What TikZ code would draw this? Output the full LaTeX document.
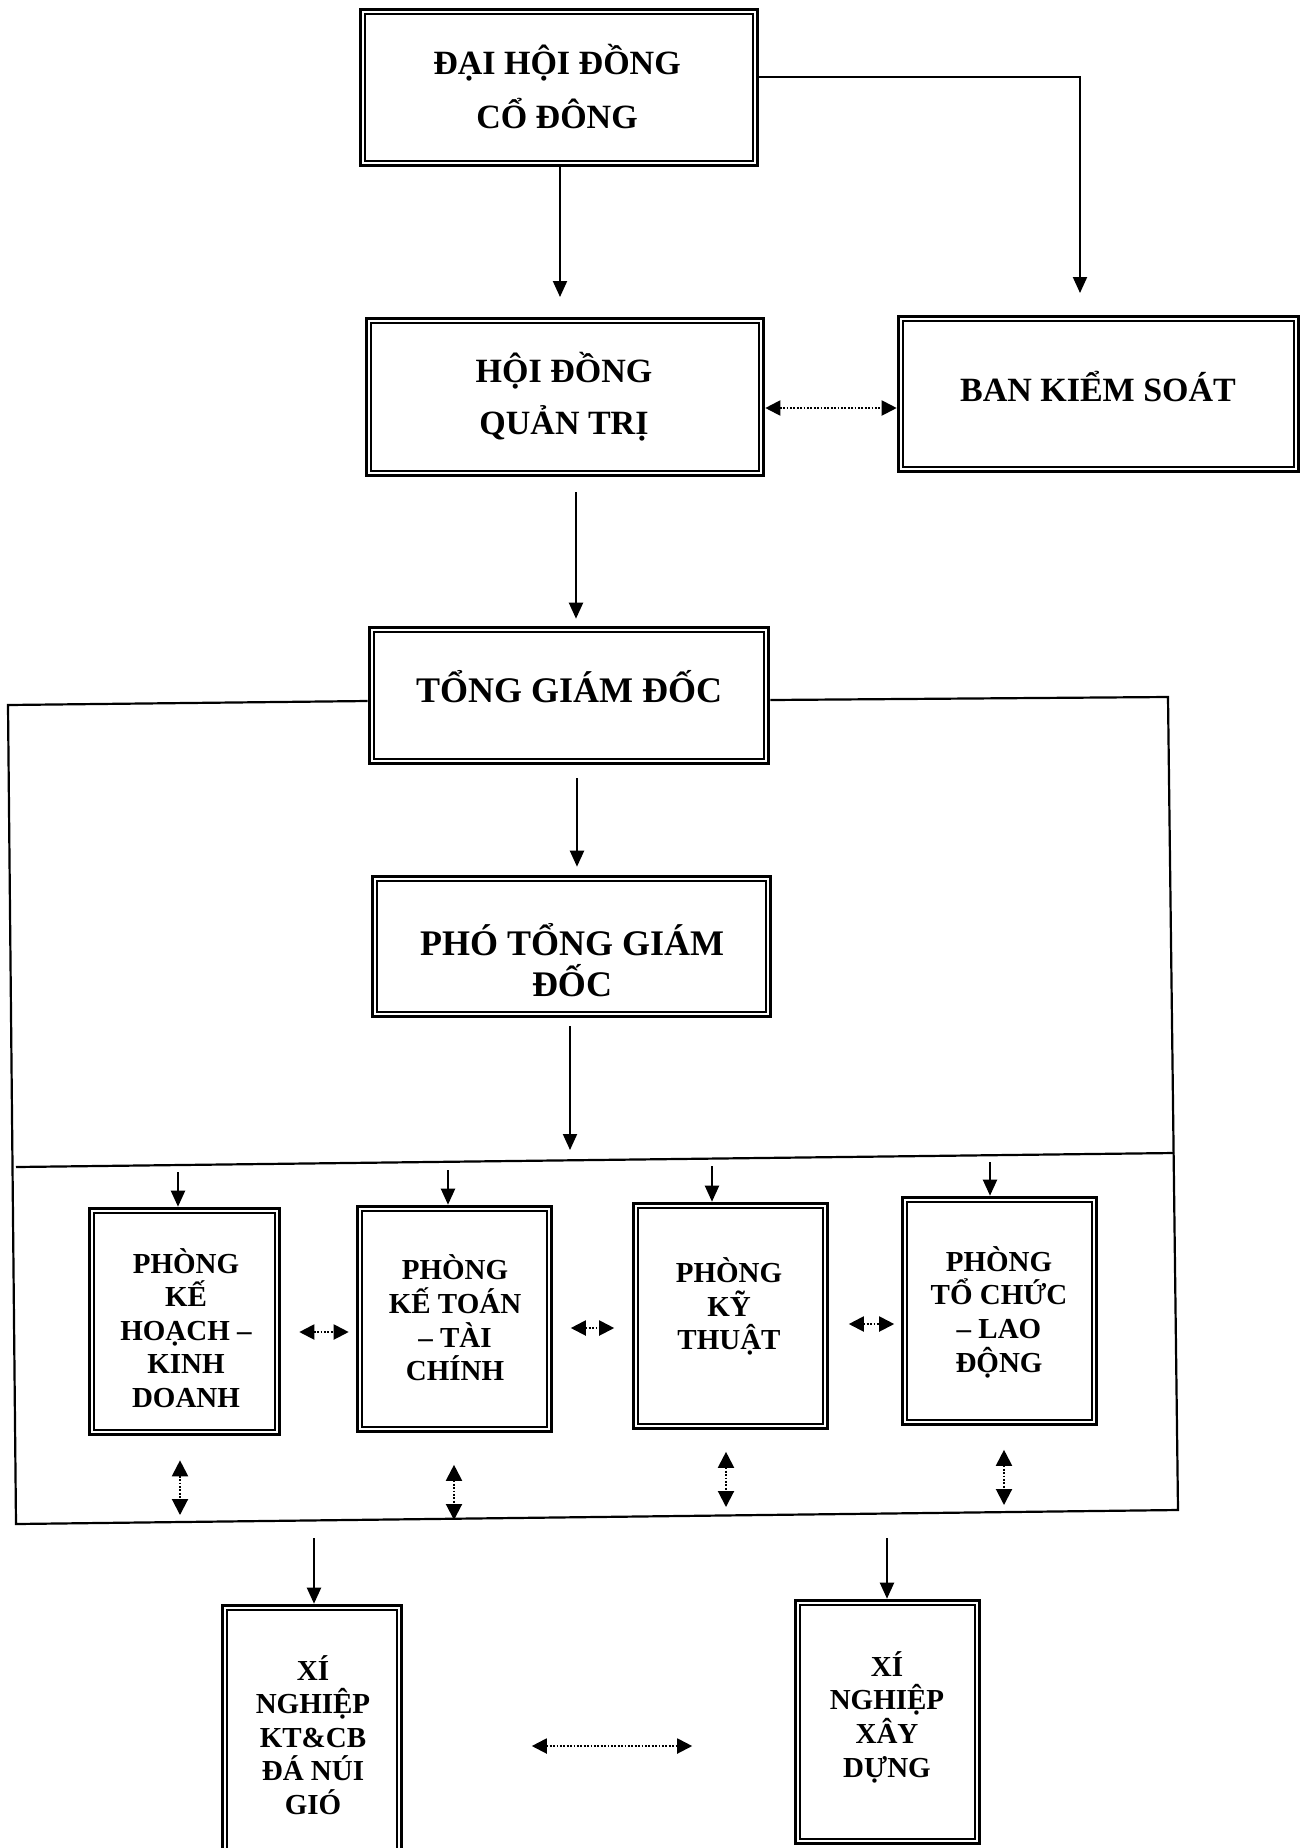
\documentclass[tikz,border=0pt]{standalone}
\usepackage{fontspec}
\setmainfont{Liberation Serif}
\usetikzlibrary{arrows.meta}
\begin{document}
\begin{tikzpicture}[x=1pt,y=-1pt,
  dbox/.style={draw, line width=3.6pt, inner sep=0pt},
  bigt/.style={font=\fontsize{34}{54}\selectfont\bfseries, align=center, inner sep=0pt},
  midt/.style={font=\fontsize{36}{41}\selectfont\bfseries, align=center, inner sep=0pt},
  smallt/.style={font=\fontsize{29}{33.6}\selectfont\bfseries, align=center, inner sep=0pt},
  arr/.style={line width=2pt, -{Triangle[length=16pt,width=14pt]}},
  darr/.style={line width=2pt, dash pattern=on 1.8pt off 1.6pt, {Triangle[length=15pt,width=15pt]}-{Triangle[length=15pt,width=15pt]}},
  vdarr/.style={line width=2pt, dash pattern=on 1.8pt off 1.6pt, {Triangle[length=16pt,width=16pt]}-{Triangle[length=16pt,width=16pt]}},
  frame/.style={line width=2.2pt}
]
\useasboundingbox (0,0) rectangle (1309,1848);
\clip (0,0) rectangle (1309,1848);

% boxes
\node[dbox, minimum width=397pt, minimum height=156pt] (dhd) at (559,87.5) {};
\node[dbox, minimum width=397pt, minimum height=157pt] (hdqt) at (565,397) {};
\node[dbox, minimum width=400pt, minimum height=155pt] (bks) at (1098.5,394) {};
\node[dbox, minimum width=399pt, minimum height=136pt] (tgd) at (569,695.5) {};
\node[dbox, minimum width=398pt, minimum height=140pt] (ptgd) at (571.5,946.5) {};
\node[dbox, minimum width=190pt, minimum height=226pt] (p1) at (184.5,1321.5) {};
\node[dbox, minimum width=194pt, minimum height=225pt] (p2) at (454.5,1319) {};
\node[dbox, minimum width=194pt, minimum height=225pt] (p3) at (730.5,1316) {};
\node[dbox, minimum width=194pt, minimum height=227pt] (p4) at (999.5,1311) {};
\node[dbox, minimum width=179pt, minimum height=268pt] (xn1) at (312,1739.5) {};
\node[dbox, minimum width=184pt, minimum height=243pt] (xn2) at (887.5,1722) {};

\foreach \n in {dhd,hdqt,bks,tgd,ptgd,p1,p2,p3,p4,xn1,xn2}
  \draw[line width=2pt] ([shift={(6,6)}]\n.north west) rectangle ([shift={(-6,-6)}]\n.south east);

% texts
\node[bigt] (dhdt) at (557,87) {ĐẠI HỘI ĐỒNG\\CỔ ĐÔNG};
\node[bigt, font=\fontsize{34}{52}\selectfont\bfseries] (hdqtt) at (564,397) {HỘI ĐỒNG\\QUẢN TRỊ};
\node[bigt] (bkst) at (1098,387) {BAN KIỂM SOÁT};
\node[midt] (tgdt) at (569,687) {TỔNG GIÁM ĐỐC};
\node[midt] (ptgdt) at (572,960) {PHÓ TỔNG GIÁM\\ĐỐC};
\node[smallt] (p1t) at (186,1328) {PHÒNG\\KẾ\\HOẠCH –\\KINH\\DOANH};
\node[smallt] (p2t) at (455,1318) {PHÒNG\\KẾ TOÁN\\– TÀI\\CHÍNH};
\node[smallt] (p3t) at (729,1306.5) {PHÒNG\\KỸ\\THUẬT};
\node[smallt] (p4t) at (999,1312) {PHÒNG\\TỔ CHỨC\\– LAO\\ĐỘNG};
\node[smallt] (xn1t) at (313,1735) {XÍ\\NGHIỆP\\KT\&CB\\ĐÁ NÚI\\GIÓ};
\node[smallt] (xn2t) at (887,1717) {XÍ\\NGHIỆP\\XÂY\\DỰNG};

% frame
\draw[frame] ([yshift=-5.5pt]tgd.west) -- (8,705) -- (16,1524) -- (1178,1510) -- (1168,697) -- ([yshift=-4.5pt]tgd.east);
\draw[frame] (16,1167) -- (1174,1153);

% connectors top
\coordinate (a1) at (560,297);
\draw[arr] (dhd.south -| a1) -- (a1);
\coordinate (a2) at (1080,293);
\draw[arr] ([yshift=10.5pt]dhd.east) -| (a2);
\draw[darr] ([yshift=-11pt]hdqt.east) -- ([yshift=-11pt]hdqt.east -| bks.west);
\draw[arr] ([xshift=11pt,yshift=-15pt]hdqt.south) -- ([xshift=7pt,yshift=7pt]tgd.north);
\draw[arr] ([xshift=8pt,yshift=-13pt]tgd.south) -- ([xshift=5.5pt,yshift=8pt]ptgd.north);
\coordinate (a3) at (570,1150);
\draw[arr] ([yshift=-8pt]ptgd.south -| a3) -- (a3);

% down arrows to departments
\coordinate (m1) at (178,1172);
\coordinate (m2) at (448,1170);
\coordinate (m3) at (712,1166);
\coordinate (m4) at (990,1162);
\draw[arr] (m1) -- (m1 |- p1.north);
\draw[arr] (m2) -- (m2 |- p2.north);
\draw[arr] (m3) -- (m3 |- p3.north);
\draw[arr] (m4) -- (m4 |- p4.north);

% horizontal dotted between departments
\coordinate (h1) at (0,1332);
\coordinate (h2) at (0,1328);
\coordinate (h3) at (0,1324);
\draw[darr] ([xshift=18pt]p1.east |- h1) -- ([xshift=-7pt]p2.west |- h1);
\draw[darr] ([xshift=17.5pt]p2.east |- h2) -- ([xshift=-17.5pt]p3.west |- h2);
\draw[darr] ([xshift=19.5pt]p3.east |- h3) -- ([xshift=-6.5pt]p4.west |- h3);

% vertical dotted below departments
\coordinate (v1) at (180,1515);
\coordinate (v2) at (454,1520);
\coordinate (v3) at (726,1507);
\coordinate (v4) at (1004,1505);
\draw[vdarr] ([yshift=-24pt]p1.south -| v1) -- (v1);
\draw[vdarr] ([yshift=-31.5pt]p2.south -| v2) -- (v2);
\draw[vdarr] ([yshift=-21.5pt]p3.south -| v3) -- (v3);
\draw[vdarr] ([yshift=-23.5pt]p4.south -| v4) -- (v4);

% bottom
\coordinate (b1) at (314,1538);
\coordinate (b2) at (887,1538);
\draw[arr] (b1) -- (b1 |- xn1.north);
\draw[arr] (b2) -- (b2 |- xn2.north);
\coordinate (dy) at (0,1746);
\draw[darr] ([xshift=128.5pt]xn1.east |- dy) -- ([xshift=-101.5pt]xn2.west |- dy);
\end{tikzpicture}
\end{document}
